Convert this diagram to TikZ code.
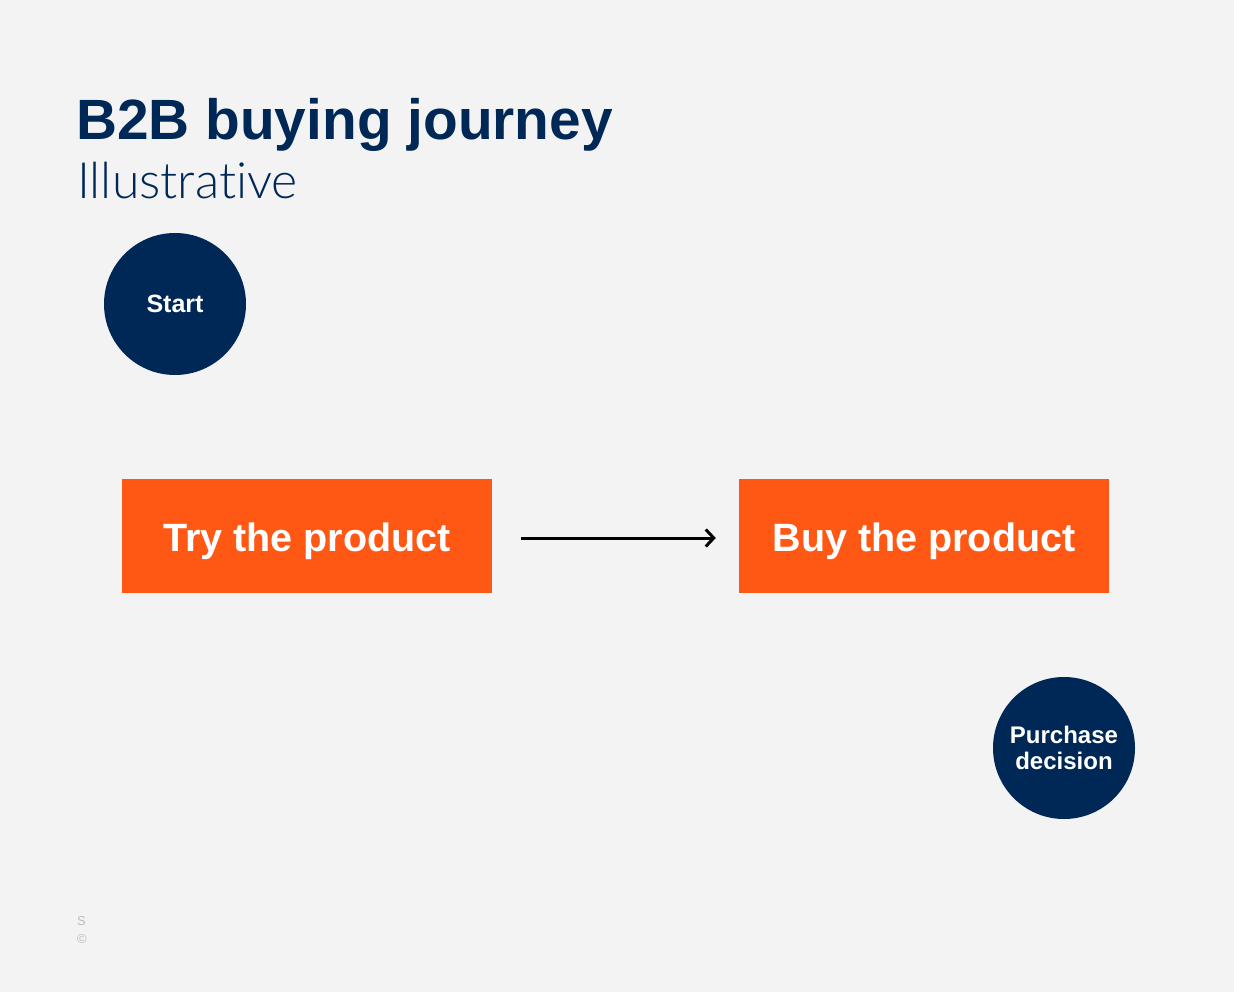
\documentclass[tikz,border=0pt]{standalone}
\usepackage{fontspec}
\setmainfont{Liberation Sans}
\newfontfamily\lightfont[Ligatures={NoCommon,NoRequired,NoContextual,NoRare}]{Lato Light}
\usetikzlibrary{arrows.meta}
\definecolor{bg}{HTML}{F3F3F3}
\definecolor{navy}{HTML}{002856}
\definecolor{orng}{HTML}{FF5714}
\definecolor{foot}{HTML}{BDBDBD}
\tikzset{
  circ/.style={circle, fill=navy, minimum size=142pt, inner sep=0pt, text=white, font=\bfseries\fontsize{24}{26}\selectfont, align=center},
  stepbox/.style={rectangle, fill=orng, minimum width=370pt, minimum height=114pt, inner sep=0pt, text=white, font=\bfseries\fontsize{39.5}{44}\selectfont},
  flow/.style={line width=3pt, -{Straight Barb[length=8pt,width=17pt,line width=3pt]}}
}
\begin{document}
\begin{tikzpicture}[x=1pt,y=-1pt]
\useasboundingbox (0,0) rectangle (1234,992);
\fill[bg] (0,0) rectangle (1234,992);
\node[anchor=base west, inner sep=0pt, text=navy, font=\bfseries\fontsize{56.8}{60}\selectfont] (title) at (76,140) {B2B buying journey};
\node[anchor=base west, inner sep=0pt, text=navy, font=\lightfont\fontsize{50}{56}\selectfont] (sub) at (77,199) {Illustrative};
\node[circ] (start) at (175,304) {\fontsize{25}{26}\selectfont Start};
\node[circ] (purchase) at (1064,748) {Purchase\\[0pt]decision};
\node[stepbox] (try) at (307,536) {};
\node[stepbox] (buy) at (924,536) {};
\node[anchor=base, inner sep=0pt, text=white, font=\bfseries\fontsize{39.5}{44}\selectfont] (trylabel) at (307,551) {Try the product};
\node[anchor=base, inner sep=0pt, text=white, font=\bfseries\fontsize{39.5}{44}\selectfont] (buylabel) at (924,551) {Buy the product};
\draw[flow, shorten <=29pt, shorten >=23pt] (try.east |- 0,538) coordinate (a) -- (buy.west |- 0,538) coordinate (b);
\node[anchor=base west, inner sep=0pt, text=foot, font=\fontsize{13}{14}\selectfont] (fs) at (77,925) {S};
\node[anchor=base west, inner sep=0pt, text=foot, font=\fontsize{13}{14}\selectfont] (fc) at (77,943) {©};
\end{tikzpicture}
\end{document}
